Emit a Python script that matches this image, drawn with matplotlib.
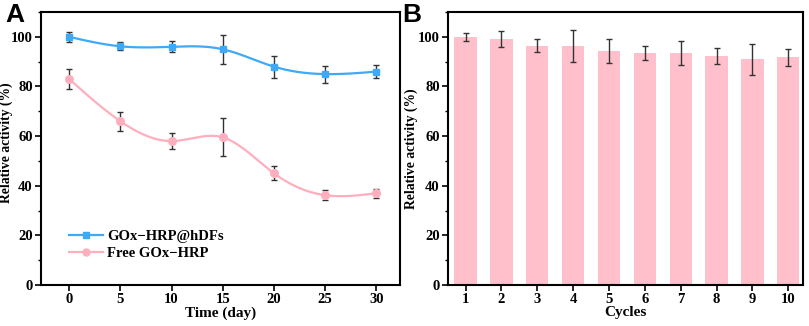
import numpy as np
import matplotlib.pyplot as plt
from matplotlib.ticker import MultipleLocator

plt.rcParams['font.family'] = ['Liberation Serif', 'DejaVu Serif']
plt.rcParams['font.weight'] = 'bold'

# Panel A data
days = [0, 5, 10, 15, 20, 25, 30]
hdfs = [100, 96.2, 96, 95, 88, 85, 86]
hdfs_err = [2.0, 1.6, 2.2, 5.8, 4.4, 3.4, 2.7]
free = [83, 66, 58, 59.5, 45, 36.2, 37]
free_err = [4.2, 3.8, 3.3, 7.7, 2.8, 1.9, 1.75]

# Panel B data
cycles = [1, 2, 3, 4, 5, 6, 7, 8, 9, 10]
reuse = [100, 99.3, 96.5, 96.3, 94.2, 93.5, 93.5, 92.3, 91, 91.8]
reuse_err = [1.7, 3.2, 2.6, 6.4, 4.8, 2.8, 4.8, 3.4, 6.2, 3.5]

blue = '#3fa9f5'
pink = '#ffaebe'
barpink = '#ffc0cb'


def spline(x, y, n=300):
    # natural cubic spline through the points, like Origin's spline connect
    x = np.asarray(x, float)
    y = np.asarray(y, float)
    m = len(x)
    h = np.diff(x)
    A = np.zeros((m, m))
    b = np.zeros(m)
    A[0, 0] = A[-1, -1] = 1
    for i in range(1, m - 1):
        A[i, i - 1] = h[i - 1]
        A[i, i] = 2 * (h[i - 1] + h[i])
        A[i, i + 1] = h[i]
        b[i] = 3 * ((y[i + 1] - y[i]) / h[i] - (y[i] - y[i - 1]) / h[i - 1])
    c = np.linalg.solve(A, b)
    xs = np.linspace(x[0], x[-1], n)
    idx = np.clip(np.searchsorted(x, xs) - 1, 0, m - 2)
    dx = xs - x[idx]
    bb = (y[idx + 1] - y[idx]) / h[idx] - h[idx] * (2 * c[idx] + c[idx + 1]) / 3
    d = (c[idx + 1] - c[idx]) / (3 * h[idx])
    ys = y[idx] + bb * dx + c[idx] * dx ** 2 + d * dx ** 3
    return xs, ys


def style(ax, labelx, labely):
    for s in ax.spines.values():
        s.set_linewidth(1.5)
    ax.tick_params(axis='both', which='major', direction='out', length=4, width=1.2, labelsize=10.5, pad=2)
    ax.tick_params(axis='y', which='minor', direction='out', length=2.5, width=1)
    ax.yaxis.set_major_locator(MultipleLocator(20))
    ax.yaxis.set_minor_locator(MultipleLocator(10))
    ax.set_ylim(0, 110)
    ax.set_ylabel('Relative activity (%)', fontsize=9.8, fontweight='bold')
    ax.yaxis.set_label_coords(labelx, labely)
    for lab in ax.get_xticklabels() + ax.get_yticklabels():
        lab.set_fontweight('bold')


fig = plt.figure(figsize=(8.09, 3.26), dpi=100)
axA = fig.add_axes([0.0507, 0.1258, 0.4437, 0.8372])
axB = fig.add_axes([0.554, 0.1258, 0.4386, 0.8372])

# A
xs, ys = spline(days, hdfs)
axA.plot(xs, ys, color=blue, lw=1.6)
xs, ys = spline(days, free)
axA.plot(xs, ys, color=pink, lw=1.6)
axA.errorbar(days, hdfs, yerr=hdfs_err, fmt='none', ecolor='#333333', elinewidth=1, capsize=2, capthick=1)
axA.errorbar(days, free, yerr=free_err, fmt='none', ecolor='#333333', elinewidth=1, capsize=2, capthick=1)
axA.plot(days, hdfs, 's', color=blue, ms=5, zorder=3)
axA.plot(days, free, 'o', color=pink, ms=5.5, zorder=3)
axA.plot([], [], '-s', color=blue, lw=1.6, ms=4.5, label='GOx\u2212HRP@hDFs')
axA.plot([], [], '-o', color=pink, lw=1.6, ms=5, label='Free GOx\u2212HRP')
axA.set_xlim(-2.75, 32.3)
axA.set_xticks(days)
axA.set_xlabel('Time (day)', fontsize=11, fontweight='bold', labelpad=0)
axA.legend(loc='lower left', bbox_to_anchor=(0.062, 0.07), frameon=False,
           prop={'weight': 'bold', 'size': 10.5}, handlelength=2.3, handletextpad=0.3,
           labelspacing=0.25, borderaxespad=0)
style(axA, -0.077, 0.522)
fig.text(0.006, 0.99, 'A', fontsize=19, fontweight='bold', family='Liberation Sans', va='top')

# B
axB.bar(cycles, reuse, width=0.62, color=barpink, yerr=reuse_err, ecolor='#333333',
        error_kw=dict(elinewidth=1, capsize=2, capthick=1))
axB.set_xlim(0.515, 10.41)
axB.set_xticks(cycles)
axB.set_xlabel('Cycles', fontsize=11, fontweight='bold', labelpad=0)
style(axB, -0.086, 0.5)
fig.text(0.497, 0.99, 'B', fontsize=19, fontweight='bold', family='Liberation Sans', va='top')

fig.savefig('out.png', dpi=100)
